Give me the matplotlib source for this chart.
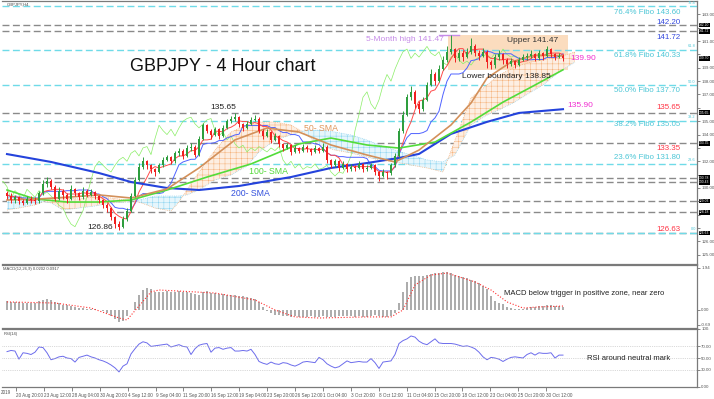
import numpy as np
import pandas as pd
import matplotlib.pyplot as plt
from matplotlib.patches import Rectangle

plt.rcParams['font.family'] = ['Liberation Sans', 'DejaVu Sans']
plt.rcParams['hatch.linewidth'] = 0.35

# ====================== PRICE DATA (one candle ~ 2.3 bars of 4h) ======================
first_open = 129.6
closes = [129.4, 129.1, 129.3, 129.0, 128.9, 129.2, 129.1, 129.0, 129.6, 130.3,
          130.5, 130.1, 129.2, 129.8, 129.5, 129.2, 129.9, 129.6, 129.3, 129.8,
          129.5, 129.7, 129.4, 129.1, 128.7, 128.5, 127.8, 127.3, 127.1, 127.7,
          128.3, 129.4, 130.6, 131.6, 132.0, 131.7, 131.4, 131.2, 131.7, 132.1,
          132.3, 132.0, 132.6, 132.8, 132.4, 133.0, 133.1, 132.5, 133.7, 134.7,
          134.3, 134.0, 134.4, 133.9, 134.5, 135.0, 135.2, 135.3, 134.8, 134.5,
          134.8, 135.1, 135.2, 134.3, 133.9, 134.2, 133.6, 133.9, 133.3, 133.0,
          133.2, 132.7, 133.0, 132.8, 133.1, 132.9, 132.7, 133.0, 132.8, 133.1,
          132.1, 131.7, 132.0, 131.5, 131.8, 131.4, 131.6, 131.5, 131.8, 131.4,
          131.5, 131.7, 131.2, 130.9, 131.2, 131.1, 131.7, 132.4, 134.3, 135.5,
          136.8, 137.2, 136.3, 135.9, 136.6, 137.7, 138.5, 138.0, 138.9, 139.6,
          140.2, 140.4, 139.7, 140.1, 139.8, 140.2, 140.6, 140.1, 139.9, 140.2,
          139.4, 139.2, 139.8, 140.0, 139.6, 139.3, 139.5, 139.2, 139.6, 139.8,
          139.9, 140.0, 139.7, 140.1, 139.9, 140.4, 140.0, 139.8, 139.9, 139.7]
highs = [129.8, 129.6, 129.5, 129.4, 129.2, 129.4, 129.4, 129.3, 129.8, 130.6,
         130.8, 130.7, 130.2, 130.1, 129.9, 129.6, 130.2, 130.0, 129.7, 130.1,
         129.9, 129.9, 129.8, 129.5, 129.2, 128.9, 128.6, 127.9, 127.5, 127.9,
         128.5, 129.6, 130.8, 131.9, 132.3, 132.1, 131.8, 131.5, 131.9, 132.3,
         132.5, 132.4, 132.8, 133.0, 132.9, 133.2, 133.4, 133.2, 133.9, 134.9,
         134.8, 134.4, 134.6, 134.5, 134.7, 135.2, 135.4, 135.65, 135.4, 134.9,
         135.0, 135.3, 135.5, 135.3, 134.4, 134.4, 134.3, 134.1, 134.0, 133.4,
         133.4, 133.3, 133.2, 133.1, 133.3, 133.2, 133.0, 133.2, 133.1, 133.4,
         133.2, 132.2, 132.2, 132.1, 132.0, 131.9, 131.8, 131.7, 132.0, 131.9,
         131.7, 131.9, 131.8, 131.3, 131.4, 131.3, 131.9, 132.6, 134.5, 135.8,
         137.0, 137.6, 137.3, 136.5, 136.8, 137.9, 138.9, 138.7, 139.2, 139.9,
         140.6, 141.47, 140.5, 140.4, 140.3, 140.5, 141.2, 140.8, 140.3, 140.5,
         140.3, 139.6, 140.0, 140.3, 140.1, 139.7, 139.7, 139.6, 139.8, 140.0,
         140.1, 140.3, 140.1, 140.3, 140.2, 140.6, 140.5, 140.1, 140.1, 140.0]
lows = [129.2, 128.9, 128.9, 128.8, 128.7, 128.8, 128.9, 128.8, 128.9, 129.5,
        130.1, 129.9, 129.0, 129.1, 129.2, 128.9, 129.1, 129.4, 129.1, 129.2,
        129.3, 129.4, 129.2, 128.9, 128.5, 128.2, 127.6, 127.0, 126.86, 127.0,
        127.5, 128.2, 129.3, 130.5, 131.4, 131.4, 131.1, 130.9, 131.1, 131.6,
        132.0, 131.8, 131.9, 132.4, 132.2, 132.3, 132.8, 132.3, 132.4, 133.6,
        134.1, 133.7, 133.9, 133.7, 133.8, 134.4, 134.9, 135.0, 134.6, 134.3,
        134.4, 134.7, 135.0, 134.1, 133.7, 133.8, 133.4, 133.5, 133.1, 132.8,
        132.9, 132.5, 132.6, 132.6, 132.7, 132.7, 132.5, 132.6, 132.6, 132.7,
        131.9, 131.5, 131.6, 131.3, 131.4, 131.2, 131.3, 131.3, 131.4, 131.2,
        131.3, 131.4, 131.0, 130.55, 130.8, 130.7, 131.0, 131.6, 132.3, 134.1,
        135.4, 136.6, 136.0, 135.6, 135.8, 136.5, 137.6, 137.7, 137.9, 138.8,
        139.4, 140.0, 139.4, 139.5, 139.5, 139.7, 140.0, 139.9, 139.6, 139.8,
        139.0, 138.9, 139.0, 139.6, 139.3, 139.0, 139.1, 138.95, 139.1, 139.5,
        139.6, 139.7, 139.5, 139.6, 139.6, 139.8, 139.8, 139.6, 139.7, 139.5]

# moving averages read at a few candles
sma200_idx = [0, 11, 23, 31, 40, 48, 58, 71, 81, 90, 98, 103, 111, 120, 128, 139]
sma200 = [132.54, 131.95, 131.12, 130.45, 130.0, 129.85, 130.15, 130.82, 131.5,
          131.87, 132.25, 132.55, 134.05, 134.95, 135.62, 135.9]
sma100_idx = [0, 7, 15, 23, 31, 40, 50, 61, 73, 81, 90, 98, 107, 116, 124, 132, 139]
sma100 = [129.85, 129.18, 128.95, 128.95, 129.1, 129.85, 130.82, 131.8, 133.3,
          133.74, 133.22, 132.99, 133.44, 134.94, 136.43, 137.71, 138.85]
sma50_idx = [0, 8, 16, 23, 31, 40, 48, 57, 65, 73, 81, 90, 97, 103, 111, 116, 120,
             126, 132, 139]
sma50 = [129.1, 129.18, 129.33, 129.48, 129.25, 129.93, 131.5, 133.6, 134.49, 134.19,
         133.22, 132.47, 131.95, 132.84, 134.72, 136.36, 138.23, 139.43, 139.95, 139.9]

# ichimoku cloud edges
cloud_idx = [0, 3, 7, 11, 14, 18, 22, 26, 30, 33, 37, 41, 43, 45, 48, 52, 56, 60, 63,
             67, 71, 74, 78, 82, 86, 90, 93, 97, 101, 105, 109, 112, 116, 120, 123,
             127, 131, 134, 138, 142]
span_a = [128.35, 128.50, 128.73, 129.18, 129.25, 129.18, 129.33, 129.25, 129.10,
          128.95, 128.50, 128.28, 128.95, 129.85, 131.20, 132.84, 134.19, 134.72,
          134.94, 134.94, 134.72, 134.19, 133.22, 132.84, 132.62, 132.32, 132.10,
          131.95, 131.72, 131.50, 131.20, 133.59, 136.74, 137.71, 138.46, 139.06,
          139.43, 139.58, 139.81, 140.18]
span_b = [129.48, 129.40, 129.10, 128.88, 128.35, 128.50, 128.65, 128.88, 128.95,
          129.10, 129.40, 129.40, 129.40, 129.48, 129.85, 130.60, 130.97, 131.65,
          132.69, 133.59, 133.97, 134.27, 134.34, 134.19, 133.97, 133.59, 133.22,
          132.84, 132.47, 132.10, 131.95, 132.47, 134.72, 135.46, 135.84, 136.44,
          137.19, 137.71, 138.68, 139.43]

# MACD histogram + signal
macd = [0.40, 0.38, 0.36, 0.35, 0.33, 0.32, 0.32, 0.34, 0.40, 0.48,
        0.52, 0.45, 0.35, 0.30, 0.25, 0.22, 0.20, 0.15, 0.10, 0.08,
        0.06, 0.05, 0.03, 0.00, -0.05, -0.15, -0.28, -0.42, -0.55, -0.50,
        -0.30, 0.00, 0.35, 0.70, 0.90, 1.00, 0.98, 0.85, 0.84, 0.85,
        0.86, 0.84, 0.85, 0.86, 0.85, 0.84, 0.80, 0.72, 0.70, 0.82,
        0.88, 0.80, 0.76, 0.74, 0.72, 0.70, 0.70, 0.68, 0.66, 0.63,
        0.60, 0.57, 0.52, 0.38, 0.15, -0.05, -0.15, -0.22, -0.25, -0.28,
        -0.30, -0.32, -0.30, -0.32, -0.33, -0.32, -0.30, -0.31, -0.32, -0.30,
        -0.31, -0.33, -0.32, -0.28, -0.27, -0.28, -0.30, -0.31, -0.30, -0.32,
        -0.33, -0.30, -0.25, -0.28, -0.32, -0.33, -0.30, -0.15, 0.30, 0.85,
        1.30, 1.52, 1.58, 1.55, 1.58, 1.62, 1.65, 1.68, 1.70, 1.74,
        1.75, 1.72, 1.62, 1.55, 1.50, 1.45, 1.40, 1.35, 1.25, 1.10,
        0.95, 0.65, 0.40, 0.32, 0.28, 0.15, 0.08, 0.05, 0.03, 0.05,
        0.08, 0.12, 0.15, 0.18, 0.20, 0.22, 0.22, 0.20, 0.18, 0.15]
signal_idx = [0, 12, 21, 28, 30, 36, 38, 52, 62, 67, 72, 78, 90, 96, 99, 102, 106,
              110, 117, 121, 125, 129, 133, 139]
signal = [0.37, 0.32, 0.09, -0.37, -0.46, 0.83, 0.92, 0.78, 0.46, 0.0, -0.32, -0.37,
          -0.32, -0.32, 0.0, 1.15, 1.61, 1.70, 1.29, 0.92, 0.37, 0.09, 0.14, 0.18]

# RSI
rsi = [61, 63, 62, 48, 59, 58, 56, 60, 69, 68, 59, 47, 49, 52, 53, 50, 49, 43, 51, 53,
       55, 52, 50, 47, 45, 42, 38, 33, 26, 36, 40, 57, 66, 74, 78, 76, 70, 71, 72, 73,
       74, 69, 71, 73, 70, 69, 56, 66, 72, 74, 75, 60, 67, 68, 65, 67, 68, 62, 62, 63,
       62, 65, 56, 44, 41, 39, 43, 40, 39, 42, 41, 38, 36, 39, 43, 44, 43, 42, 51, 47,
       40, 36, 33, 35, 40, 45, 42, 43, 44, 43, 43, 49, 42, 32, 43, 44, 45, 56, 75, 80,
       83, 88, 86, 79, 75, 73, 78, 83, 76, 75, 75, 75, 74, 72, 70, 71, 69, 66, 60, 52,
       47, 51, 50, 48, 44, 48, 51, 52, 51, 50, 56, 59, 55, 59, 58, 58, 59, 50, 55, 55]

# levels
gray_levels = [142.20, 141.72, 135.65, 133.35, 130.78, 130.43, 129.03, 128.18, 126.63]
fib_levels = [143.60, 140.33, 137.70, 135.05, 131.80, 126.63]
fib_tags = ["76.4", "61.8", "50.0", "38.2", "23.6", "0.0"]
box_lo, box_hi = 138.85, 141.47

date_labels = ["20 Aug 20:00", "23 Aug 12:00", "28 Aug 04:00", "30 Aug 20:00",
               "4 Sep 12:00", "9 Sep 04:00", "11 Sep 20:00", "16 Sep 12:00",
               "19 Sep 04:00", "23 Sep 20:00", "26 Sep 12:00", "1 Oct 04:00",
               "3 Oct 20:00", "8 Oct 12:00", "11 Oct 04:00", "15 Oct 20:00",
               "18 Oct 12:00", "23 Oct 04:00", "25 Oct 20:00", "30 Oct 12:00"]

# colours
CYAN = '#6fdbe8'
CYAN_TXT = '#4cc6d6'
GRAY = '#8a8a8a'
RED_TXT = '#ff3344'
BLUE_TXT = '#3348dd'
MAGENTA = '#f030d0'
VIOLET = '#c68be8'
UP = '#2e9e3e'
DOWN = '#f02020'

# ====================== FIGURE ======================
W, H = 714, 399
fig = plt.figure(figsize=(W / 100, H / 100), dpi=100)


def frame(left, top, right, bottom):
    return [left / W, 1 - bottom / H, (right - left) / W, (bottom - top) / H]


ax = fig.add_axes(frame(2, 1, 697, 264))
ax_m = fig.add_axes(frame(2, 265, 697, 328), sharex=ax)
ax_r = fig.add_axes(frame(2, 329, 697, 387), sharex=ax)

n = len(closes)
idx = np.arange(n)
opens = np.array([first_open] + closes[:-1])
c = np.array(closes)
hi = np.array(highs)
lo = np.array(lows)

# ---- cloud ----
ca = np.array(span_a)
cb = np.array(span_b)
ax.fill_between(cloud_idx, ca, cb, where=ca >= cb, interpolate=True,
                facecolor='#fdeee2', edgecolor='#f5b27a', hatch='+++', lw=0, zorder=1)
ax.fill_between(cloud_idx, ca, cb, where=ca < cb, interpolate=True,
                facecolor='#e6f6fc', edgecolor='#8ad3f0', hatch='+++', lw=0, zorder=1)
ax.plot(cloud_idx, span_a, color='#f2a466', lw=0.5, ls=':', zorder=1)
ax.plot(cloud_idx, span_b, color='#7fcdee', lw=0.5, ls=':', zorder=1)

# ---- consolidation box ----
top_i = int(np.argmax(hi))
ax.add_patch(Rectangle((top_i - 0.75, box_lo), n - top_i + 1.0, box_hi - box_lo,
                       facecolor='#fbd6b3', edgecolor='none', alpha=0.85, zorder=0.5))
ax.plot([top_i - 3, top_i + 2], [hi[top_i], hi[top_i]], color=VIOLET, lw=1.0, zorder=3)

# ---- horizontal levels ----
for lv in gray_levels:
    ax.axhline(lv, color=GRAY, lw=1.0, ls=(0, (5, 2.5)), zorder=0.8)
for lv, tg in zip(fib_levels, fib_tags):
    ax.axhline(lv, color=CYAN, lw=1.0, ls=(0, (5, 2.5)), zorder=0.9)
    ax.text(172.2, lv + 0.12, tg, color=CYAN_TXT, fontsize=2.8, ha='right', va='bottom')

# ---- ichimoku lines ----
hs, ls_ = pd.Series(hi), pd.Series(lo)
tenkan = (hs.rolling(4, min_periods=1).max() + ls_.rolling(4, min_periods=1).min()) / 2
kijun = (hs.rolling(11, min_periods=1).max() + ls_.rolling(11, min_periods=1).min()) / 2
ax.plot(idx - 11, c, color='#8aee66', lw=0.5, zorder=2)
ax.plot(idx, kijun, color='#4f62ff', lw=0.7, zorder=2)
ax.plot(idx, tenkan, color='#ff4a4a', lw=0.7, zorder=2)

# ---- moving averages ----
ax.plot(sma200_idx, sma200, color='#2443dc', lw=1.5, zorder=3)
ax.plot(sma100_idx, sma100, color='#52dc3a', lw=1.2, zorder=3)
ax.plot(sma50_idx, sma50, color='#d3905a', lw=1.2, zorder=3)

# ---- candles ----
col = np.where(c >= opens, UP, DOWN)
ax.vlines(idx, lo, hi, colors=col, lw=0.7, zorder=4)
body = np.maximum(np.abs(c - opens), 0.06)
ax.bar(idx, body, bottom=np.minimum(c, opens), width=0.55, color=col, lw=0, zorder=4)

# ---- annotations ----
ax.text(54, 139.13, 'GBPJPY - 4 Hour chart', fontsize=13, color='#111111',
        ha='center', va='center')
ax.text(54, 136.05, '135.65', fontsize=6, color='#222222', ha='center', va='center')
ax.text(23.3, 127.08, '126.86', fontsize=6, color='#222222', ha='center', va='center')
ax.text(65.3, 131.27, '100- SMA', fontsize=6.3, color='#55d93a', ha='center', va='center')
ax.text(60.8, 129.62, '200- SMA', fontsize=6.3, color='#3350dd', ha='center', va='center')
ax.text(78.5, 134.42, '50- SMA', fontsize=6.3, color='#e0955a', ha='center', va='center')
ax.text(99.5, 141.15, '5-Month high 141.47', fontsize=6, color=VIOLET, ha='center', va='center')
ax.text(131.5, 141.08, 'Upper 141.47', fontsize=6, color='#333333', ha='center', va='center')
ax.text(124.8, 138.38, 'Lower boundary 138.85', fontsize=6, color='#222222',
        ha='center', va='center')
ax.text(144.0, 139.73, '139.90', fontsize=6, color=MAGENTA, ha='center', va='center')
ax.text(143.3, 136.14, '135.90', fontsize=6, color=MAGENTA, ha='center', va='center')

right_notes = [("76.4% Fibo 143.60", 143.14, CYAN_TXT),
               ("142.20", 142.42, BLUE_TXT),
               ("141.72", 141.30, BLUE_TXT),
               ("61.8% Fibo 140.33", 139.95, CYAN_TXT),
               ("50.0% Fibo 137.70", 137.33, CYAN_TXT),
               ("135.65", 136.06, RED_TXT),
               ("38.2% Fibo 135.05", 134.72, CYAN_TXT),
               ("133.35", 132.99, RED_TXT),
               ("23.6% Fibo 131.80", 132.28, CYAN_TXT),
               ("126.63", 126.93, RED_TXT)]
for txt, yv, cl in right_notes:
    ax.text(168.3, yv, txt, fontsize=5.7, color=cl, ha='right', va='center')

# price tags on the axis
tag_levels = gray_levels + [closes[-1]]
for lv in tag_levels:
    ax.annotate(f'{lv:.2f}', xy=(1.0, lv), xycoords=('axes fraction', 'data'),
                xytext=(1.5, 0), textcoords='offset points', fontsize=2.4, color='white',
                ha='left', va='center',
                bbox=dict(boxstyle='square,pad=0.12', fc='black', ec='none'))
ax.text(0.0, 143.75, 'GBPJPY,H4', fontsize=3, color='#444444', ha='left', va='center')

# ====================== MACD ======================
ax_m.bar(idx, macd, width=0.45, color='#adadad', lw=0)
ax_m.plot(signal_idx, signal, color='#ff3030', lw=0.8, ls=':')
ax_m.text(0.002, 0.93, 'MACD(12,26,9) 0.0202 0.0917', transform=ax_m.transAxes,
          fontsize=3, color='#444444', ha='left', va='center')
ax_m.text(124.3, 0.74, 'MACD below trigger in positive zone, near zero', fontsize=5.5,
          color='#222222', ha='left', va='center')
ax_m.set_ylim(-0.83, 2.07)
ax_m.set_yticks([1.94, 0.0, -0.69])
ax_m.set_yticklabels(['1.94', '0.00', '-0.69'])

# ====================== RSI ======================
ax_r.plot(idx, rsi, color='#6c6cec', lw=0.7)
for lv in (70, 50, 30):
    ax_r.axhline(lv, color='#b5b5b5', lw=0.5, ls=':')
ax_r.text(0.002, 0.92, 'RSI(14)', transform=ax_r.transAxes, fontsize=3,
          color='#444444', ha='left', va='center')
ax_r.text(145, 50, 'RSI around neutral mark', fontsize=5.5, color='#222222',
          ha='left', va='center')
ax_r.set_ylim(0, 100)
ax_r.set_yticks([100, 70, 50, 30, 0])
ax_r.set_yticklabels(['100.', '70.00', '50.00', '30.00', '0.00'])

# ====================== AXES STYLE ======================
ax.set_xlim(-1.25, 172.5)
ax.set_ylim(124.31, 144.0)
yt = np.arange(125, 144)
ax.set_yticks(yt)
# the black price tags cover the scale labels that sit under them
ax.set_yticklabels(['' if min(abs(v - t) for t in tag_levels) < 0.4 else f'{v:.2f}'
                    for v in yt])

for a in (ax, ax_m, ax_r):
    a.yaxis.tick_right()
    a.tick_params(axis='y', labelsize=3.2, length=2, width=0.5, colors='#555555', pad=1)
    a.spines['left'].set_visible(False)
    for s in ('top', 'bottom', 'right'):
        a.spines[s].set_color('#7a7a7a')
        a.spines[s].set_linewidth(0.9)
    a.set_facecolor('white')

ax.tick_params(axis='x', bottom=False, labelbottom=False)
ax_m.tick_params(axis='x', bottom=False, labelbottom=False)

tick_pos = 2.25 + 6.975 * np.arange(len(date_labels))
ax_r.set_xticks(tick_pos)
ax_r.set_xticklabels(date_labels)
ax_r.tick_params(axis='x', labelsize=3.3, length=3, width=0.5, colors='#555555', pad=1)
for lab in ax_r.get_xticklabels():
    lab.set_ha('left')
fig.text(1 / W, 1 - 393 / H, '2019', fontsize=3.3, color='#555555',
         ha='left', va='center')

fig.savefig('out.png', dpi=100)
